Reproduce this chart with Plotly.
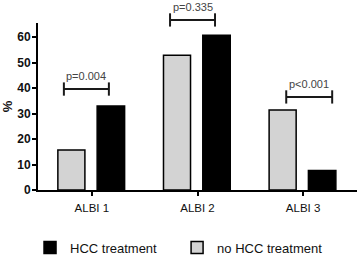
import plotly.graph_objects as go

categories = ["ALBI 1", "ALBI 2", "ALBI 3"]
no_hcc = [15.7, 52.9, 31.4]
hcc = [32.9, 60.7, 7.6]
y_ticks = [0, 10, 20, 30, 40, 50, 60]
p_labels = ["p=0.004", "p=0.335", "p<0.001"]
bracket_heights = [39.6, 66.7, 36.5]
bracket_left = [-0.265, -0.26, -0.16]
bracket_right = [0.161, 0.166, 0.275]

Y_TOP = 65.5
X_RANGE = [-0.51, 2.51]
CAP = 2.6  # half cap height in data units

fig = go.Figure()
fig.add_trace(go.Bar(
    x=list(range(len(categories))), y=hcc, name="HCC treatment",
    marker=dict(color="#000000", line=dict(color="#000000", width=1.5)),
    width=0.26, offset=0.05, legend="legend",
))
fig.add_trace(go.Bar(
    x=list(range(len(categories))), y=no_hcc, name="no HCC treatment",
    marker=dict(color="#d3d3d3", line=dict(color="#000000", width=1.5)),
    width=0.256, offset=-0.322, legend="legend2",
))

shapes = []
annotations = []
for i, (lab, h, l, r) in enumerate(zip(p_labels, bracket_heights, bracket_left, bracket_right)):
    yp = h / Y_TOP
    cp = CAP / Y_TOP
    line = dict(color="#1a1a1a", width=2)
    shapes.append(dict(type="line", xref="x", yref="paper", x0=i + l, x1=i + r, y0=yp, y1=yp, line=line))
    shapes.append(dict(type="line", xref="x", yref="paper", x0=i + l, x1=i + l, y0=yp - cp, y1=yp + cp, line=line))
    shapes.append(dict(type="line", xref="x", yref="paper", x0=i + r, x1=i + r, y0=yp - cp, y1=yp + cp, line=line))
    annotations.append(dict(
        x=i + (l + r) / 2, y=yp, xref="x", yref="paper", text=lab, showarrow=False,
        yanchor="bottom", yshift=5,
        font=dict(family="Liberation Sans, Arial", size=11, color="#444444"),
    ))

legend_font = dict(family="Liberation Sans, Arial", size=13, color="#111111")
fig.update_layout(
    width=358, height=256,
    margin=dict(l=38, r=1, t=23, b=66, autoexpand=False),
    paper_bgcolor="white", plot_bgcolor="white",
    showlegend=True,
    legend=dict(orientation="h", x=-0.025, xanchor="left", y=-0.255, yanchor="top", font=legend_font),
    legend2=dict(orientation="h", x=0.436, xanchor="left", y=-0.255, yanchor="top", font=legend_font),
    xaxis=dict(
        range=X_RANGE, tickmode="array", tickvals=list(range(len(categories))),
        ticktext=categories, showline=True, linecolor="#000000", linewidth=2,
        ticks="outside", ticklen=4, tickwidth=2, tickcolor="#000000",
        showgrid=False, zeroline=False, automargin=False, ticklabelstandoff=2,
        tickfont=dict(family="Liberation Sans, Arial", size=11.5, color="#111111"),
    ),
    yaxis=dict(
        range=[0, Y_TOP], tickvals=y_ticks, showline=True, linecolor="#000000",
        linewidth=2, ticks="outside", ticklen=4, tickwidth=2, tickcolor="#000000",
        showgrid=False, zeroline=False, automargin=False, ticklabelstandoff=-1,
        tickfont=dict(family="Liberation Sans, Arial", size=12, color="#111111", weight="bold"),
        title=dict(text="%", font=dict(family="Liberation Sans, Arial", size=13, color="#111111", weight="bold"), standoff=5),
    ),
    shapes=shapes, annotations=annotations,
)

fig.write_html("out.html", config={"displayModeBar": False},
               post_script="document.body.style.margin='0';")
